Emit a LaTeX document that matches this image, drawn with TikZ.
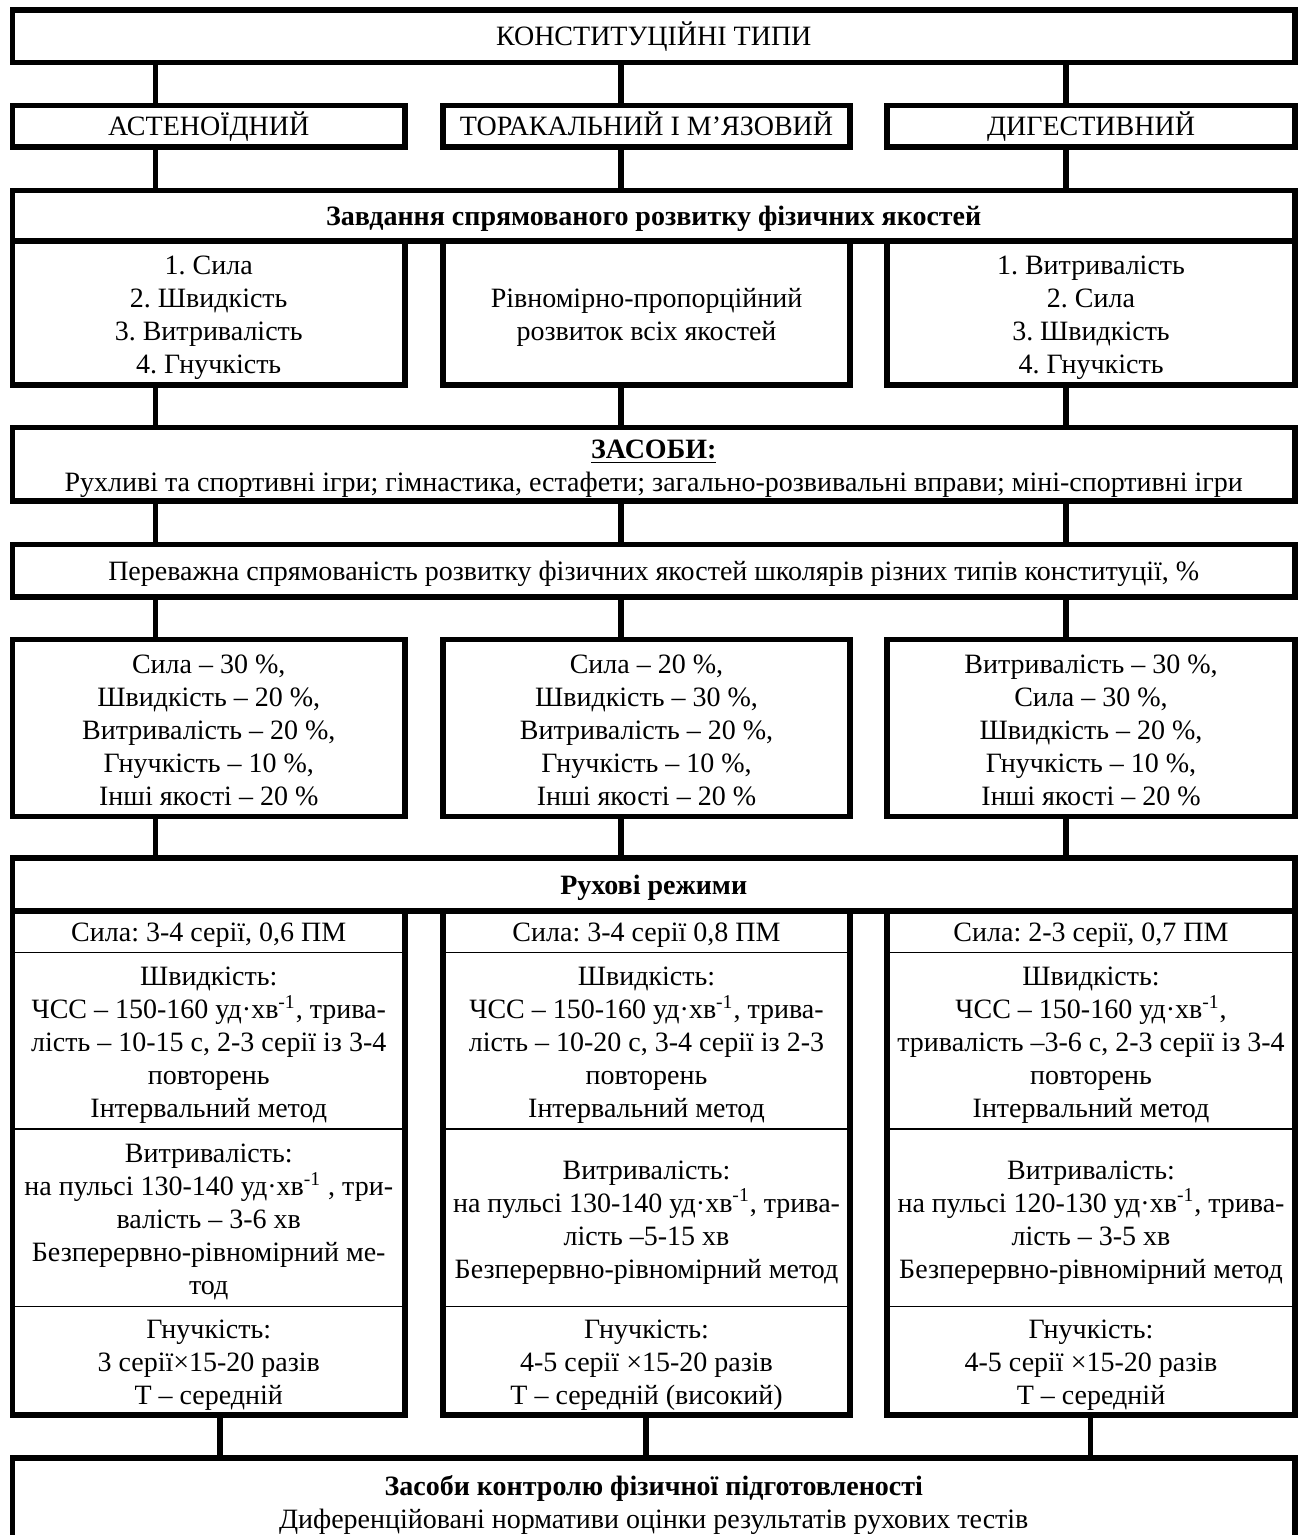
\documentclass[tikz,border=0pt]{standalone}
\usepackage{fontspec}
\setmainfont{Liberation Serif}
\usetikzlibrary{positioning}
\frenchspacing
\newcommand\linestrut{\rule[-3.5pt]{0pt}{16.5pt}}
\newcommand\firststrut{\rule{0pt}{14.5pt}}

\begin{document}
\begin{tikzpicture}
                [x=1pt, y=-1pt,
                box/.style={draw, line width=2.8pt, outer sep=0pt, inner sep=0pt,
                    align=center, font=\fontsize{14}{16.5}\selectfont,
                    execute at begin node=\linestrut, execute at end node=\linestrut},
                cell/.style={box, line width=0.7pt},
                wide/.style={minimum width=641.25pt},
                lcol/.style={minimum width=196.25pt},
                mcol/.style={minimum width=203.5pt},
                rcol/.style={minimum width=204pt},
                link/.style={line width=2.8pt},
                ]
                \useasboundingbox (0,0) rectangle (650.5,767.5);
                \coordinate (L) at (77.75,0);
                \coordinate (M) at (310.5,0);
                \coordinate (R) at (533,0);
                \coordinate (L2) at (110,0);
                \coordinate (M2) at (323,0);
                \coordinate (R2) at (545.25,0);

                \node[box, wide, minimum height=26.25pt] (types) at (326.875,18.125) {КОНСТИТУЦІЙНІ ТИПИ};

                \node[box, lcol, minimum height=20.75pt] (ast) at (104.375,63.125) {АСТЕНОЇДНИЙ};
                \node[box, mcol, minimum height=20.75pt] (tor) at (323.25,63.125) {ТОРАКАЛЬНИЙ І М’ЯЗОВИЙ};
                \node[box, rcol, minimum height=20.75pt] (dig) at (545.5,63.125) {ДИГЕСТИВНИЙ};

                \node[box, wide, minimum height=25.25pt] (tasks) at (326.875,107.875)
                    {\textbf{Завдання спрямованого розвитку фізичних якостей}};
                \node[box, lcol, minimum height=72pt] (taskA) at (104.375,156.5)
                    {\firststrut 1. Сила\\2. Швидкість\\3. Витривалість\\4. Гнучкість};
                \node[box, mcol, minimum height=72pt] (taskB) at (323.25,156.5)
                    {\firststrut Рівномірно-пропорційний\\розвиток всіх якостей};
                \node[box, rcol, minimum height=72pt] (taskC) at (545.5,156.5)
                    {\firststrut 1. Витривалість\\2. Сила\\3. Швидкість\\4. Гнучкість};

                \node[box, wide, minimum height=36.75pt] (means) at (326.875,232.125)
                    {\firststrut\underline{\textbf{ЗАСОБИ:}}\\Рухливі та спортивні ігри; гімнастика, естафети; загально-розвивальні вправи; міні-спортивні ігри};

                \node[box, wide, minimum height=26.25pt] (share) at (326.875,285.375)
                    {Переважна спрямованість розвитку фізичних якостей школярів різних типів конституції, \%};

                \node[box, lcol, minimum height=88.5pt] (pctA) at (104.375,364)
                    {\firststrut Сила – 30 \%,\\Швидкість – 20 \%,\\Витривалість – 20 \%,\\Гнучкість – 10 \%,\\Інші якості – 20 \%};
                \node[box, mcol, minimum height=88.5pt] (pctB) at (323.25,364)
                    {\firststrut Сила – 20 \%,\\Швидкість – 30 \%,\\Витривалість – 20 \%,\\Гнучкість – 10 \%,\\Інші якості – 20 \%};
                \node[box, rcol, minimum height=88.5pt] (pctC) at (545.5,364)
                    {\firststrut Витривалість – 30 \%,\\Сила – 30 \%,\\Швидкість – 20 \%,\\Гнучкість – 10 \%,\\Інші якості – 20 \%};

                \node[box, wide, minimum height=26.5pt] (modes) at (326.875,442.25)
                    {\textbf{Рухові режими}};

                \node[cell, lcol, minimum height=20.85pt] (silaA) at (104.375,465.925) {Сила: 3-4 серії, 0,6 ПМ};
                \node[cell, mcol, minimum height=20.85pt] (silaB) at (323.25,465.925) {Сила: 3-4 серії 0,8 ПМ};
                \node[cell, rcol, minimum height=20.85pt] (silaC) at (545.5,465.925) {Сила: 2-3 серії, 0,7 ПМ};

                \node[cell, lcol, minimum height=88.15pt] (speedA) at (104.375,520.425)
                    {\firststrut Швидкість:\\ЧСС – 150-160 уд·хв\textsuperscript{-1}, трива-\\лість – 10-15 с, 2-3 серії із 3-4\\повторень\\Інтервальний метод};
                \node[cell, mcol, minimum height=88.15pt] (speedB) at (323.25,520.425)
                    {\firststrut Швидкість:\\ЧСС – 150-160 уд·хв\textsuperscript{-1}, трива-\\лість – 10-20 с, 3-4 серії із 2-3\\повторень\\Інтервальний метод};
                \node[cell, rcol, minimum height=88.15pt] (speedC) at (545.5,520.425)
                    {\firststrut Швидкість:\\ЧСС – 150-160 уд·хв\textsuperscript{-1},\\тривалість –3-6 с, 2-3 серії із 3-4\\повторень\\Інтервальний метод};

                \node[cell, lcol, minimum height=88.75pt] (endA) at (104.375,608.875)
                    {\firststrut Витривалість:\\на пульсі 130-140 уд·хв\textsuperscript{-1} , три-\\валість – 3-6 хв\\Безперервно-рівномірний ме-\\тод};
                \node[cell, mcol, minimum height=88.75pt] (endB) at (323.25,608.875)
                    {\firststrut Витривалість:\\на пульсі 130-140 уд·хв\textsuperscript{-1}, трива-\\лість –5-15 хв\\Безперервно-рівномірний метод};
                \node[cell, rcol, minimum height=88.75pt] (endC) at (545.5,608.875)
                    {\firststrut Витривалість:\\на пульсі 120-130 уд·хв\textsuperscript{-1}, трива-\\лість – 3-5 хв\\Безперервно-рівномірний метод};

                \node[cell, lcol, minimum height=54.25pt] (flexA) at (104.375,680.375)
                    {\firststrut Гнучкість:\\3 серії×15-20 разів\\Т – середній};
                \node[cell, mcol, minimum height=54.25pt] (flexB) at (323.25,680.375)
                    {\firststrut Гнучкість:\\4-5 серії ×15-20 разів\\Т – середній (високий)};
                \node[cell, rcol, minimum height=54.25pt] (flexC) at (545.5,680.375)
                    {\firststrut Гнучкість:\\4-5 серії ×15-20 разів\\Т – середній};

                \foreach \n in {A,B,C}
                    \draw[link] (sila\n.north west) rectangle (flex\n.south east);

                \node[box, wide, minimum height=43pt] (control) at (326.875,750.5)
                    {\firststrut\textbf{Засоби контролю фізичної підготовленості}\\Диференційовані нормативи оцінки результатів рухових тестів};

                \foreach \c/\n/\t/\p in {L/ast/taskA/pctA, M/tor/taskB/pctB, R/dig/taskC/pctC}{
                    \draw[link] (types.south -| \c) -- (\n.north -| \c);
                    \draw[link] (\n.south -| \c) -- (tasks.north -| \c);
                    \draw[link] (\t.south -| \c) -- (means.north -| \c);
                    \draw[link] (means.south -| \c) -- (share.north -| \c);
                    \draw[link] (share.south -| \c) -- (\p.north -| \c);
                    \draw[link] (\p.south -| \c) -- (modes.north -| \c);
                }
                \foreach \c/\n in {L2/flexA, M2/flexB, R2/flexC}
                    \draw[link] (\n.south -| \c) -- (control.north -| \c);
            \end{tikzpicture}
\end{document}
